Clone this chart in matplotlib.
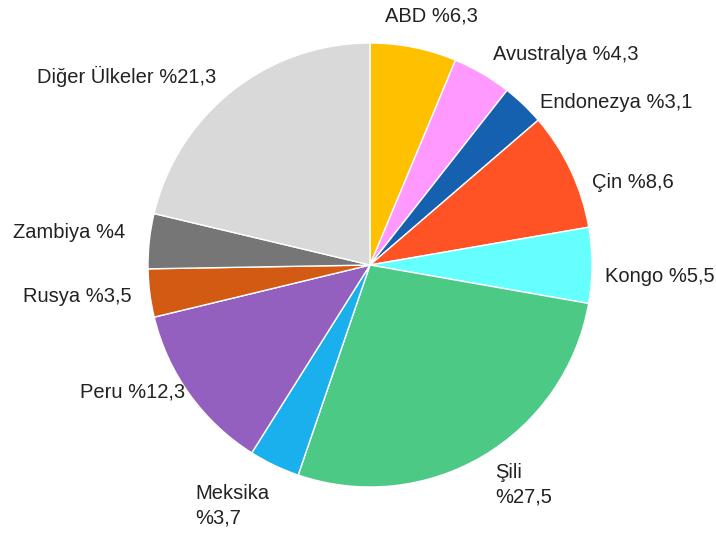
import matplotlib
matplotlib.use("Agg")
import matplotlib.pyplot as plt

# data
countries = ["ABD", "Avustralya", "Endonezya", "Çin", "Kongo", "Şili",
             "Meksika", "Peru", "Rusya", "Zambiya", "Diğer Ülkeler"]
shares = [6.3, 4.3, 3.1, 8.6, 5.5, 27.5, 3.7, 12.3, 3.5, 4, 21.3]
label_texts = ["ABD %6,3", "Avustralya %4,3", "Endonezya %3,1", "Çin %8,6",
               "Kongo %5,5", "Şili\n%27,5", "Meksika\n%3,7", "Peru %12,3",
               "Rusya %3,5", "Zambiya %4", "Diğer Ülkeler %21,3"]

colors = ["#FFC000", "#FF99FF", "#1660B0", "#FF5325", "#66FFFF", "#4DC986",
          "#1AB0EE", "#9460C0", "#D25A12", "#767676", "#D9D9D9"]

# label anchor points in pixels (left x, centre y) of the 716x534 picture
label_px = [(385, 16), (493, 55), (540, 102), (592, 183), (605, 277),
            (495, 485), (195, 506), (80, 392), (23, 297), (13, 233), (37, 76)]

plt.rcParams["font.family"] = ["Liberation Sans", "DejaVu Sans"]

W, H = 716, 534
cx, cy, R = 370, 265, 222

fig = plt.figure(figsize=(W / 100, H / 100), dpi=100)
ax = fig.add_axes([0, 0, 1, 1])
ax.pie(shares, colors=colors, startangle=90, counterclock=False,
       radius=1, wedgeprops=dict(edgecolor="white", linewidth=1))
ax.set_xlim(-cx / R, (W - cx) / R)
ax.set_ylim(-(H - cy) / R, cy / R)
ax.set_aspect("auto")
ax.axis("off")

for txt, (px, py) in zip(label_texts, label_px):
    ax.text((px - cx) / R, (cy - py) / R, txt, ha="left", va="center",
            fontsize=14.5, color="#222222", linespacing=1.35)

fig.savefig("out.png", dpi=100, facecolor="white")
